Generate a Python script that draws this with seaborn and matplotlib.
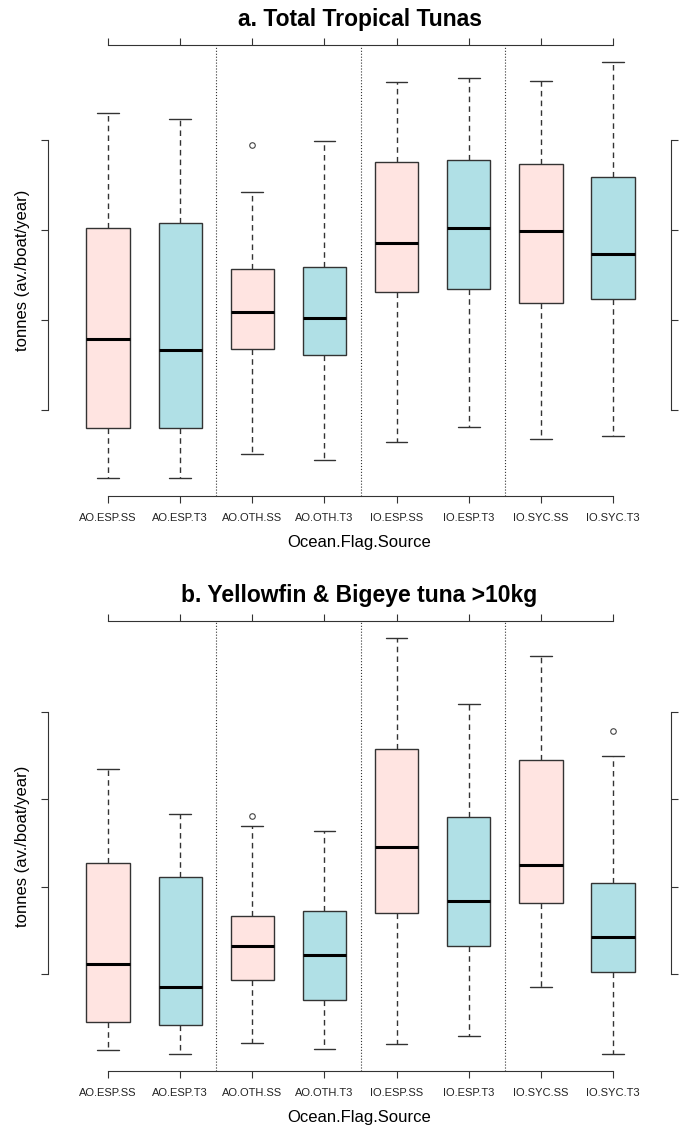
import pandas as pd
import matplotlib
matplotlib.use("Agg")
import matplotlib.pyplot as plt
import seaborn as sns

sns.set_style("ticks")
plt.rcParams["font.family"] = ["Liberation Sans", "DejaVu Sans"]
plt.rcParams["text.color"] = "black"
plt.rcParams["axes.labelcolor"] = "black"
plt.rcParams["xtick.labelcolor"] = "#222222"

# groups on the x axis and their source (colour)
groups = ["AO.ESP.SS", "AO.ESP.T3", "AO.OTH.SS", "AO.OTH.T3",
          "IO.ESP.SS", "IO.ESP.T3", "IO.SYC.SS", "IO.SYC.T3"]
sources = ["SS", "T3", "SS", "T3", "SS", "T3", "SS", "T3"]

# a. Total Tropical Tunas (tonnes / boat / year)
a_low = [244, 244, 511, 444, 644, 811, 678, 711]
a_q1 = [800, 800, 1678, 1611, 2311, 2344, 2189, 2233]
a_med = [1789, 1667, 2089, 2022, 2856, 3022, 2989, 2733]
a_q3 = [3022, 3078, 2567, 2589, 3756, 3778, 3733, 3589]
a_high = [4300, 4233, 3422, 3989, 4644, 4689, 4656, 4867]
a_out = [None, None, 3944, None, None, None, None, None]
a_ticks = [1000, 2000, 3000, 4000]

# b. Yellowfin & Bigeye tuna >10kg
b_low = [65, 42, 105, 71, 99, 145, 426, 42]
b_q1 = [225, 208, 466, 351, 849, 660, 906, 511]
b_med = [557, 426, 660, 609, 1227, 918, 1124, 712]
b_q3 = [1135, 1055, 832, 861, 1788, 1399, 1725, 1021]
b_high = [1674, 1416, 1347, 1319, 2424, 2046, 2321, 1748]
b_out = [None, None, 1405, None, None, None, None, 1891]
b_ticks = [500, 1000, 1500, 2000]

pal = {"SS": "#FFE4E1", "T3": "#B0E0E6"}


def long_table(low, q1, med, q3, high, out):
    # 9 values per group so the quartiles land exactly on q1/med/q3
    rows = []
    for g, s, lo, a, m, b, hi, o in zip(groups, sources, low, q1, med, q3, high, out):
        last = hi if o is None else o
        for v in [lo, a, a, m, m, b, b, hi, last]:
            rows.append((g, s, v))
    return pd.DataFrame(rows, columns=["Ocean.Flag.Source", "Source", "tonnes"])


def draw(ax, df, title, yticks, ylim):
    sns.boxplot(data=df, x="Ocean.Flag.Source", y="tonnes", hue="Source",
                order=groups, palette=pal, saturation=1, dodge=False,
                width=0.6, legend=False, linecolor="#333333", linewidth=1,
                ax=ax,
                medianprops=dict(color="black", linewidth=2.2),
                whiskerprops=dict(linestyle=(0, (4, 3))),
                flierprops=dict(marker="o", markersize=4,
                                markerfacecolor="none",
                                markeredgecolor="#444444",
                                markeredgewidth=0.8))
    for xs in [1.5, 3.5, 5.5]:
        ax.axvline(xs, color="#333333", linestyle=":", linewidth=0.8, zorder=0)
    ax.set_xlim(-0.832, 7.804)
    ax.set_ylim(*ylim)
    for side in ["left", "right", "top", "bottom"]:
        ax.spines[side].set_visible(True)
        ax.spines[side].set_color("#333333")
        ax.spines[side].set_linewidth(0.8)
    ax.spines["left"].set_bounds(yticks[0], yticks[-1])
    ax.spines["right"].set_bounds(yticks[0], yticks[-1])
    ax.spines["top"].set_bounds(0, 7)
    ax.spines["bottom"].set_bounds(0, 7)
    ax.set_yticks(yticks)
    ax.set_xticks(range(len(groups)))
    ax.set_xticklabels(groups)
    ax.tick_params(axis="y", left=True, right=True, labelleft=False,
                   labelright=False, length=5, width=0.8, color="#333333")
    ax.tick_params(axis="x", top=True, bottom=True, labeltop=False,
                   labelsize=8, length=5, width=0.8, color="#333333", pad=7)
    ax.set_xlabel("Ocean.Flag.Source", fontsize=12, labelpad=9)
    ax.set_ylabel("tonnes (av./boat/year)", fontsize=12, labelpad=8)
    ax.set_title(title, fontsize=16.5, fontweight="bold", pad=14)


fig = plt.figure(figsize=(6.79, 11.31), dpi=100)
ax1 = fig.add_axes([48 / 679, 635 / 1131, 623 / 679, 451 / 1131])
ax2 = fig.add_axes([48 / 679, 60 / 1131, 623 / 679, 450 / 1131])

draw(ax1, long_table(a_low, a_q1, a_med, a_q3, a_high, a_out),
     "a. Total Tropical Tunas", a_ticks, (44, 5056))
draw(ax2, long_table(b_low, b_q1, b_med, b_q3, b_high, b_out),
     "b. Yellowfin & Bigeye tuna >10kg", b_ticks, (-55, 2521))

fig.savefig("out.png", dpi=100)
